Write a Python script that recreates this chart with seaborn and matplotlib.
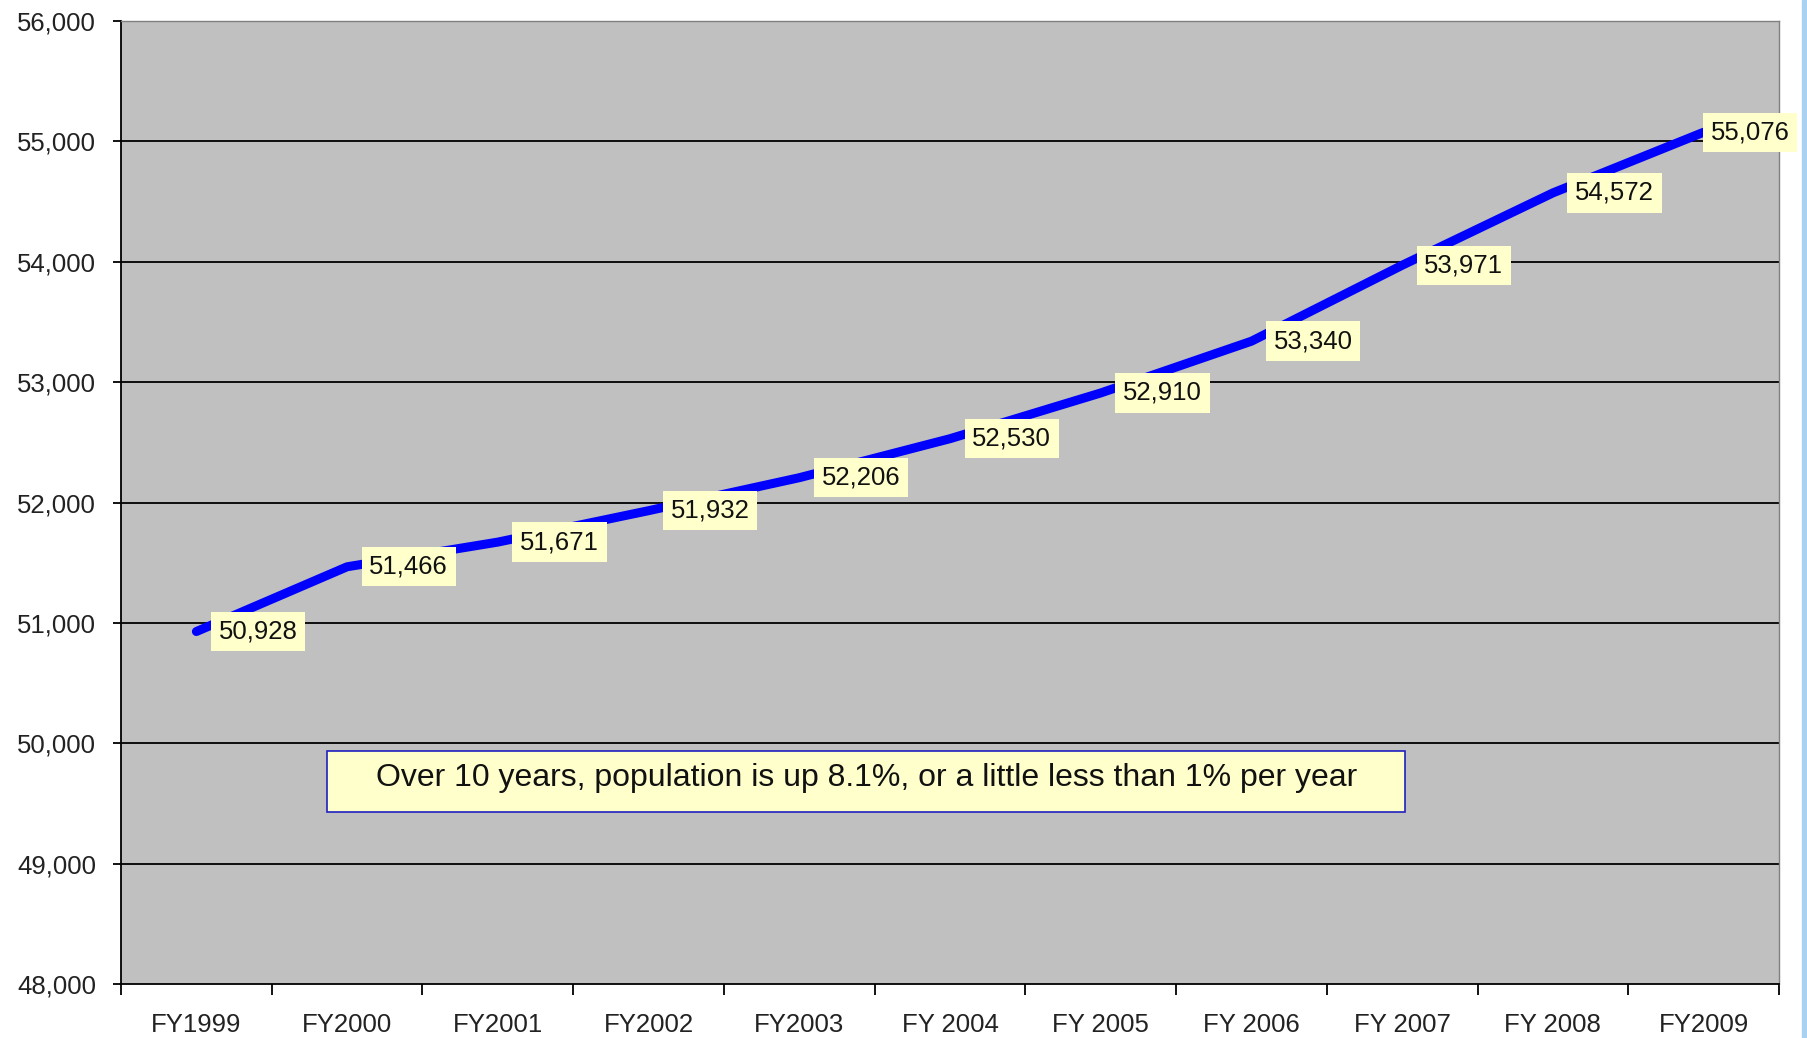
import numpy as np
import pandas as pd
import matplotlib
matplotlib.use("Agg")
import matplotlib.pyplot as plt
from matplotlib.patches import Rectangle
import seaborn as sns

# Population by fiscal year
years = ["FY1999", "FY2000", "FY2001", "FY2002", "FY2003", "FY 2004",
         "FY 2005", "FY 2006", "FY 2007", "FY 2008", "FY2009"]
population = [50928, 51466, 51671, 51932, 52206, 52530,
              52910, 53340, 53971, 54572, 55076]
y_ticks = [48000, 49000, 50000, 51000, 52000, 53000, 54000, 55000, 56000]
note = "Over 10 years, population is up 8.1%, or a little less than 1% per year"

sns.set_style("white")
plt.rcParams["font.family"] = ["Liberation Sans", "DejaVu Sans"]

df = pd.DataFrame({"pos": np.arange(len(years)), "population": population})

fig = plt.figure(figsize=(18.08, 10.38), dpi=100)
ax = fig.add_axes([121 / 1808, 1 - 984 / 1038, (1779 - 121) / 1808, (984 - 21) / 1038])
ax.set_facecolor("#C0C0C0")

# light blue strip at the right edge of the slide
fig.patches.append(Rectangle((1802 / 1808, 0), 6 / 1808, 1, transform=fig.transFigure,
                             color="#A9D2F2", zorder=0))

for yv in y_ticks[1:-1]:
    ax.axhline(yv, color="black", lw=1.3, zorder=1)

sns.lineplot(data=df, x="pos", y="population", ax=ax, color="#0000FF",
             lw=6.5, sort=False, zorder=3, solid_capstyle="round")

# data labels
offsets = [16] * (len(years) - 1) + [5]
for i, (v, off) in enumerate(zip(population, offsets)):
    ax.annotate(f"{v:,}", xy=(i, v), xytext=(off, 0), textcoords="offset points",
                ha="left", va="center", fontsize=18.5, color="#111111", zorder=4,
                bbox=dict(boxstyle="square,pad=0.3", fc="#FFFFCC", ec="none"))

# note box
ax.add_patch(Rectangle((0.87, 49425), 8.02 - 0.87, 49933 - 49425, fc="#FFFFCC",
                       ec="#2020C0", lw=1.2, zorder=4))
ax.text((0.87 + 8.02) / 2, 49710, note, ha="center", va="center",
        fontsize=23, color="#111111", zorder=5)

ax.set_xlim(-0.5, len(years) - 0.5)
ax.set_ylim(y_ticks[0], y_ticks[-1])
ax.set_yticks(y_ticks)
ax.set_yticklabels([f"{t:,}" for t in y_ticks])
ax.set_xticks(np.arange(len(years) + 1) - 0.5)
ax.set_xticklabels([])
ax.set_xticks(np.arange(len(years)), minor=True)
ax.set_xticklabels(years, minor=True)
ax.tick_params(axis="x", which="major", direction="out", length=8, width=1.3,
               color="black", bottom=True)
ax.tick_params(axis="x", which="minor", length=0, pad=21, labelsize=18.5,
               labelcolor="#222222")
ax.tick_params(axis="y", direction="out", length=6, width=1.3, color="black",
               left=True, pad=12, labelsize=18.5, labelcolor="#222222")
ax.set_xlabel("")
ax.set_ylabel("")

for side in ["left", "bottom"]:
    ax.spines[side].set_color("black")
    ax.spines[side].set_linewidth(1.3)
for side in ["top", "right"]:
    ax.spines[side].set_color("#808080")
    ax.spines[side].set_linewidth(1.0)

plt.savefig("out.png", dpi=100)
plt.close()
